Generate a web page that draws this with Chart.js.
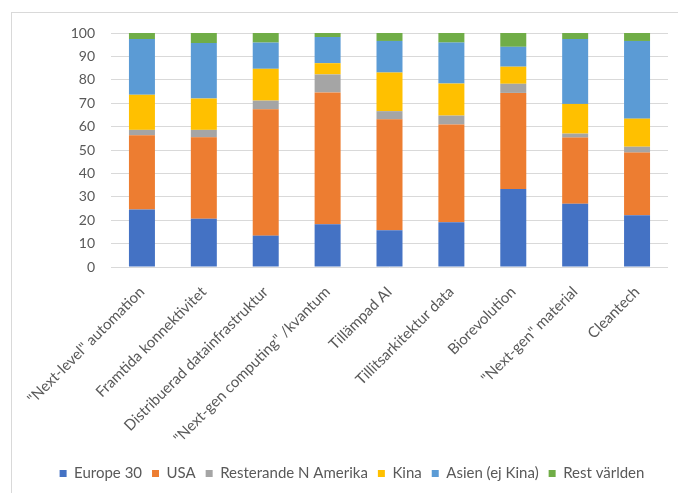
<!DOCTYPE html>
<html>
<head>
<meta charset="utf-8">
<script src="https://cdn.jsdelivr.net/npm/chart.js@4"></script>
<style>
  html, body { margin: 0; padding: 0; background: #fff; }
  #wrap { position: relative; width: 678px; height: 493px; overflow: hidden; }
  #frame { position: absolute; left: 11px; top: 12px; width: 720px; height: 540px; border: 1px solid #d9d9d9; }
  canvas { position: absolute; left: 0; top: 0; }
</style>
</head>
<body>
<div id="wrap">
  <div id="frame"></div>
  <canvas id="chart" width="678" height="493"></canvas>
</div>
<script>
// --- data (share in %) ---
const categories = [
  '"Next-level" automation',
  'Framtida konnektivitet',
  'Distribuerad datainfrastruktur',
  '"Next-gen computing" /kvantum',
  'Tillämpad AI',
  'Tillitsarkitektur data',
  'Biorevolution',
  '"Next-gen" material',
  'Cleantech'
];
const europe30  = [24.6, 20.6, 13.4, 18.3, 15.7, 19.1, 33.3, 27.0, 22.1];
const usa       = [31.7, 34.8, 54.0, 56.3, 47.4, 41.8, 41.1, 28.3, 26.8];
const restNAm   = [2.3, 3.2, 3.7, 7.7, 3.5, 3.8, 3.9, 1.7, 2.5];
const kina      = [15.0, 13.4, 13.6, 4.8, 16.5, 13.7, 7.3, 12.7, 12.0];
const asien     = [23.8, 23.7, 11.2, 11.2, 13.5, 17.5, 8.5, 27.7, 33.2];
const restWorld = [2.6, 4.3, 4.1, 1.7, 3.4, 4.1, 5.9, 2.6, 3.4];
const yTicks = [0, 10, 20, 30, 40, 50, 60, 70, 80, 90, 100];

Chart.defaults.font.family = 'Lato, "Liberation Sans", sans-serif';
Chart.defaults.color = '#595959';

const PLOT_BOTTOM = 267;
const PAD_BOTTOM = 2;

function series(label, data, color) {
    return { label: label, data: data, backgroundColor: color, borderWidth: 0,
             barPercentage: 0.42, categoryPercentage: 1 };
}

const ctx = document.getElementById('chart').getContext('2d');
new Chart(ctx, {
    type: 'bar',
    data: {
        labels: categories,
        datasets: [
            series('Europe 30', europe30, '#4472C4'),
            series('USA', usa, '#ED7D31'),
            series('Resterande N Amerika', restNAm, '#A5A5A5'),
            series('Kina', kina, '#FFC000'),
            series('Asien (ej Kina)', asien, '#5B9BD5'),
            series('Rest världen', restWorld, '#70AD47')
        ]
    },
    options: {
        responsive: false,
        animation: false,
        layout: { padding: { top: 33, left: 36, right: 10, bottom: PAD_BOTTOM } },
        plugins: {
            tooltip: { enabled: false },
            legend: {
                position: 'bottom',
                labels: {
                    boxWidth: 7,
                    boxHeight: 7,
                    padding: 10,
                    font: { size: 15 },
                    color: '#595959'
                }
            }
        },
        scales: {
            x: {
                stacked: true,
                grid: { display: false, drawTicks: false },
                border: { display: false },
                ticks: {
                    maxRotation: 45,
                    minRotation: 45,
                    autoSkip: false,
                    padding: 16,
                    font: { size: 15 },
                    color: '#595959'
                },
                // keep the plot bottom where the reference has it
                afterFit: (scale) => {
                    const legendH = scale.chart.legend ? scale.chart.legend.height : 0;
                    scale.height = scale.chart.height - PAD_BOTTOM - legendH - PLOT_BOTTOM;
                }
            },
            y: {
                stacked: true,
                min: 0,
                max: 100,
                grid: { color: '#d9d9d9', drawTicks: false },
                border: { display: false },
                afterBuildTicks: (scale) => { scale.ticks = yTicks.map(v => ({ value: v })); },
                ticks: {
                    padding: 16,
                    font: { size: 14 },
                    color: '#595959'
                },
                afterFit: (scale) => { scale.width = 75; }
            }
        }
    }
});
</script>
</body>
</html>
